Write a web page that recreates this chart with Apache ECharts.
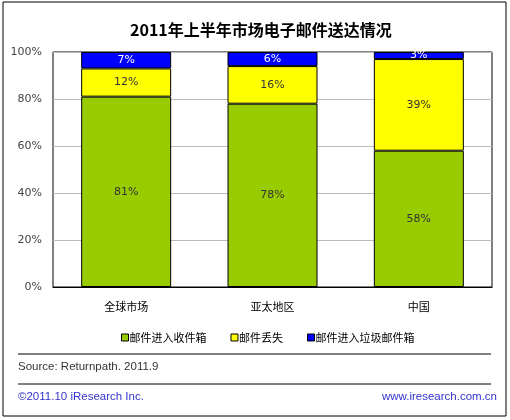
<!DOCTYPE html>
<html><head><meta charset="utf-8">
<script src="https://cdn.jsdelivr.net/npm/echarts@6/dist/echarts.min.js"></script>
<style>html,body{margin:0;padding:0;background:#fff}#c{width:510px;height:420px}</style>
</head><body><div id="c"></div>
<script>
const categories = ['全球市场', '亚太地区', '中国'];
const inbox = [81, 78, 58];
const lost = [12, 16, 39];
const spam = [7, 6, 3];
const yTicks = [0, 20, 40, 60, 80, 100];
const seriesNames = ['邮件进入收件箱', '邮件丢失', '邮件进入垃圾邮件箱'];
const colors = ['#99CC00', '#FFFF00', '#0000FF'];
const labelColors = ['#333333', '#333333', '#FFFFFF'];
const dataSets = [inbox, lost, spam];
const FONT = '"DejaVu Sans", "Noto Sans CJK SC", sans-serif';
const FOOT = '"Liberation Sans", "DejaVu Sans", sans-serif';
const CJK = '"Noto Sans CJK SC", sans-serif';

const chart = echarts.init(document.getElementById('c'), null, {renderer: 'canvas'});
chart.setOption({
  animation: false,
  textStyle: {fontFamily: FONT},
  title: {
    text: '2011年上半年市场电子邮件送达情况',
    left: 125, top: 17,
    textStyle: {fontSize: 16, fontWeight: 'bold', color: '#000', fontFamily: CJK}
  },
  grid: {left: 53, right: 18, top: 52, bottom: 133, show: true, borderColor: '#000', borderWidth: 1, backgroundColor: 'transparent'},
  legend: {
    data: seriesNames, top: 327, left: 116,
    itemWidth: 7, itemHeight: 7, itemGap: 24,
    icon: 'rect',
    itemStyle: {borderColor: '#000', borderWidth: 1},
    textStyle: {fontSize: 11, color: '#000', fontFamily: CJK, padding: [0, 0, 0, -4]}
  },
  xAxis: {
    type: 'category', data: categories,
    axisLine: {show: true, lineStyle: {color: '#000'}},
    axisTick: {show: false},
    axisLabel: {margin: 14, fontSize: 11, color: '#000', fontFamily: CJK}
  },
  yAxis: {
    type: 'value', min: 0, max: 100, interval: 20,
    axisLine: {show: false}, axisTick: {show: false},
    axisLabel: {formatter: v => yTicks.includes(v) ? v + '%' : '', fontSize: 11, color: '#444', margin: 11},
    splitLine: {lineStyle: {color: '#BBBBBB', width: 1}}
  },
  series: dataSets.map((d, i) => ({
    name: seriesNames[i], type: 'bar', stack: 'total', data: d,
    barWidth: 90,
    itemStyle: {color: colors[i], borderColor: '#000', borderWidth: 1},
    label: {show: true, position: 'inside', formatter: '{c}%', fontSize: 11, color: labelColors[i]}
  })),
  graphic: [
    {type: 'rect', shape: {x: 3, y: 2, width: 503, height: 414}, style: {fill: 'none', stroke: '#000', lineWidth: 1}, silent: true, z: -1},
    {type: 'line', shape: {x1: 18, y1: 354, x2: 491, y2: 354}, style: {stroke: '#000', lineWidth: 1}},
    {type: 'line', shape: {x1: 18, y1: 384, x2: 491, y2: 384}, style: {stroke: '#000', lineWidth: 1}},
    {type: 'text', left: 18, top: 361, style: {text: 'Source: Returnpath. 2011.9', fontSize: 11.5, fill: '#333', fontFamily: FOOT}},
    {type: 'text', left: 18, top: 391, style: {text: '©2011.10 iResearch Inc.', fontSize: 11.5, fill: '#3333CC', fontFamily: FOOT}},
    {type: 'text', right: 13, top: 391, style: {text: 'www.iresearch.com.cn', fontSize: 11.5, fill: '#3333CC', fontFamily: FOOT}}
  ]
});
</script></body></html>
